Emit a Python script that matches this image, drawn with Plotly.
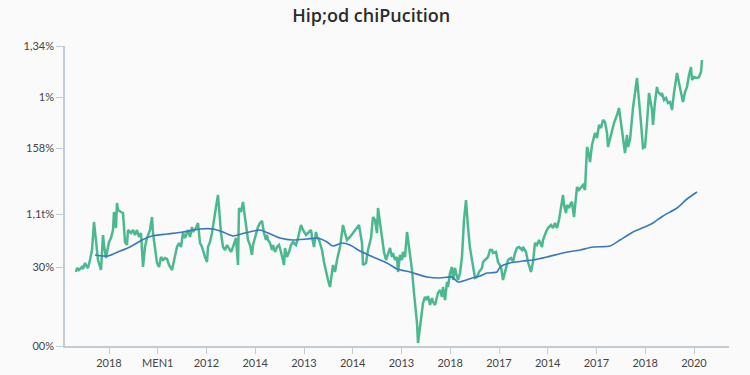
import plotly.graph_objects as go

# ---- data ----
x_tick_vals = [44, 92.75, 141.5, 190.25, 239, 287.75, 336.5, 385.25, 434, 482.75, 531.5, 580.25, 629]
x_tick_text = ["2018", "MEN1", "2012", "2014", "2013", "2014", "2013", "2018", "2017", "2014", "2017", "2018", "2020"]

y_tick_vals = [0, 79, 132, 198, 249, 300]
y_tick_text = ["00%", "30%", "1,1t%", "158%", "1%", "1,34%"]

green_x = [11, 12, 14, 17, 18, 20, 22, 23, 25, 27, 29, 32, 33, 36, 38, 39, 41, 43, 44, 46, 48, 49, 51, 52, 53, 56, 58, 60, 62, 63,
           66, 68, 70, 72, 74, 76, 78, 80, 82, 85, 87, 88, 90, 92, 94, 96, 98, 100, 102, 104, 107, 109, 112, 114,
           116, 118, 120, 123, 125, 127, 128, 131, 133, 135, 137, 140, 142, 143, 145, 147, 149, 151, 153, 154, 156, 158, 160,
           162, 164, 166, 168, 171, 173, 174, 176, 178, 179, 181, 183, 185, 187, 188, 190, 192, 193, 195, 197, 199, 201, 202,
           203, 205, 207, 208, 210, 212, 214, 216, 217, 219,
           220, 222, 224, 226, 228, 231, 233, 236, 238, 241, 243, 246, 247, 249, 251, 252, 254, 257, 259, 261, 263, 265, 267,
           268, 270, 272, 275, 277, 278, 280, 282, 285, 288, 292, 294, 297, 298, 301, 303, 306, 308, 310, 312, 313, 315, 317, 319,
           321, 323, 325, 327, 328, 330, 332, 333, 335, 337, 338, 340, 342, 344, 347, 349, 352, 353, 355, 357, 358, 360, 362, 363,
           365, 367, 368, 370, 372, 373, 375, 377, 378, 380, 382, 383, 385, 387, 388, 390, 392, 393, 395, 397, 399, 401, 403, 405,
           407, 410, 412, 414, 417, 418, 420, 423, 425,
           427, 428, 431, 433, 436, 438, 441, 443, 446, 448, 450, 452, 454, 457, 458, 461, 463, 466, 468, 470, 472, 474, 477, 478,
           481, 483, 486, 488, 490, 492, 494, 496, 498, 499, 501, 502, 504, 506, 507, 509, 511, 512, 514, 517, 518, 520, 522, 523,
           525, 527, 528,
           530, 532, 534, 536, 538, 540, 542, 543, 545, 547, 549, 552, 554, 556, 558, 560, 562, 563, 565, 568, 572, 574, 576, 578,
           580, 582, 584, 587, 588, 590, 592, 593, 596, 597, 599, 601, 603, 605, 607, 609, 612, 614, 616, 618, 620, 622, 624, 626,
           627, 629, 632, 634, 636, 637]
green_y = [74, 78, 76, 79, 77, 83, 79, 78, 86, 96, 124, 99, 86, 76, 111, 101, 88, 99, 104, 108, 116, 134, 118, 143, 136, 134, 133, 104, 101, 116,
           113, 116, 111, 116, 109, 113, 79, 99, 108, 116, 129, 113, 96, 83, 79, 89, 86, 88, 87, 81, 76, 84, 99, 103,
           99, 113, 108, 116, 109, 119, 114, 118, 123, 103, 99, 89, 84, 99, 104, 113, 124, 139, 151, 136, 113, 99, 96,
           101, 98, 94, 99, 108, 81, 138, 134, 144, 136, 118, 106, 101, 91, 101, 108, 114, 119, 123, 125, 113, 106, 111,
           106, 103, 96, 101, 94, 99, 101, 94, 89, 81,
           98, 89, 94, 101, 104, 101, 108, 121, 116, 111, 113, 116, 109, 99, 114, 109, 106, 96, 84, 74, 66, 59, 71,
           81, 74, 86, 99, 111, 121, 113, 106, 109, 113, 118, 121, 103, 81, 83, 96, 108, 129, 126, 113, 138, 123, 109, 94,
           86, 93, 98, 89, 93, 86, 89, 74, 91, 86, 94, 89, 114, 99, 76, 53, 23, 3, 19, 33, 43, 49, 46, 50,
           41, 48, 44, 41, 49, 53, 56, 49, 59, 46, 64, 59, 73, 79, 66, 78, 69, 66, 73, 89, 126, 146, 119, 98,
           86, 68, 69, 74, 78, 84, 86, 89, 96,
           96, 93, 94, 84, 79, 66, 79, 86, 88, 84, 93, 98, 99, 96, 99, 94, 84, 74, 84, 103, 101, 106, 99, 106,
           114, 118, 121, 118, 123, 118, 126, 139, 151, 141, 133, 141, 138, 143, 144, 129, 153, 159, 156, 160, 161, 156, 199, 196,
           184, 201, 206,
           213, 208, 221, 218, 226, 224, 213, 199, 208, 216, 223, 231, 238, 223, 206, 193, 211, 199, 206, 238, 268, 248, 223, 198,
           199, 223, 253, 236, 221, 244, 259, 254, 251, 253, 246, 248, 243, 244, 236, 253, 273, 263, 253, 244, 254, 259, 271, 279,
           266, 269, 268, 269, 274, 286]

blue_x = [30, 38, 43, 53, 65, 77, 87, 102, 118, 135, 148, 158, 168, 180, 195, 203, 215, 228, 242, 253, 262, 268, 277, 285,
          295, 308, 322, 332, 345, 362, 375, 387, 393, 407, 415, 422, 432, 435, 445, 458, 468, 482, 498, 515, 528, 545,
          555, 568, 582, 588, 598, 612, 622, 632]
blue_y = [91, 90, 90, 94, 99, 106, 110, 112, 114, 117, 117, 114, 110, 113, 116, 113, 108, 106, 107, 108, 104, 100, 103, 101,
          95, 89, 83, 77, 74, 69, 68, 69, 64, 68, 70, 73, 74, 79, 83, 85, 86, 89, 93, 96, 99, 100,
          106, 114, 120, 123, 130, 138, 147, 154]

title_text = "Hip;od chiPucition"

# ---- figure ----
axis_color = "#c3cbd3"
fig = go.Figure()
fig.add_trace(go.Scatter(x=green_x, y=green_y, mode="lines",
                         line=dict(color="#4ab98f", width=2.5), showlegend=False))
fig.add_trace(go.Scatter(x=blue_x, y=blue_y, mode="lines",
                         line=dict(color="#3a79b9", width=1.6, shape="spline", smoothing=0.6),
                         showlegend=False))

fig.update_layout(
    width=750, height=375,
    margin=dict(l=65, r=21, t=46, b=29),
    paper_bgcolor="#fafafa", plot_bgcolor="#fafafa",
    font=dict(family="Lato, Open Sans, sans-serif", color="#444444", size=11),
    title=dict(text=title_text, x=0.495, xanchor="center", y=0.957, yanchor="middle",
               font=dict(size=18, color="#2b2b2b", family="Open Sans, sans-serif", weight=600)),
    xaxis=dict(range=[0, 664], tickmode="array", tickvals=x_tick_vals, ticktext=x_tick_text,
               showgrid=False, zeroline=False, showline=True, linecolor=axis_color, linewidth=1.5,
               ticks="outside", ticklen=6, tickcolor=axis_color, tickwidth=1.2,
               tickfont=dict(size=11, color="#444444"), automargin=False),
    yaxis=dict(range=[0, 300], tickmode="array", tickvals=y_tick_vals, ticktext=y_tick_text,
               showgrid=False, zeroline=False, showline=True, linecolor=axis_color, linewidth=1.5,
               ticks="outside", ticklen=7, tickcolor=axis_color, tickwidth=1.2,
               tickfont=dict(size=11, color="#444444"), automargin=False),
)

fig.write_html("out.html", config={"displayModeBar": False},
               post_script="document.body.style.margin='0';document.body.style.background='#fafafa';")
